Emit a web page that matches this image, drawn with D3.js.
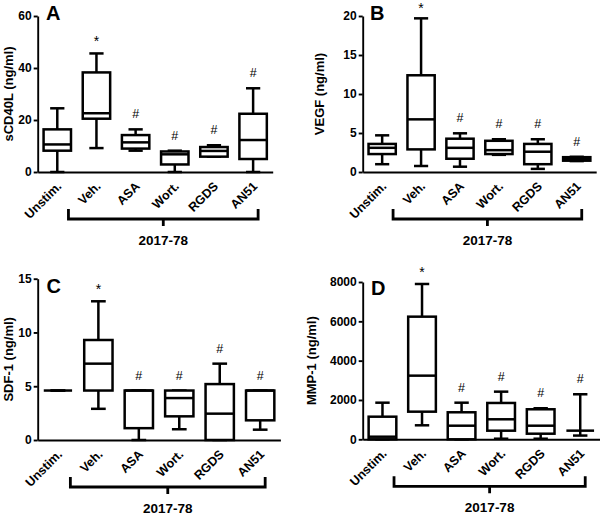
<!DOCTYPE html>
<html>
<head>
<meta charset="utf-8">
<script src="https://cdn.jsdelivr.net/npm/d3@7"></script>
<style>
  body { margin: 0; background: #fff; }
  svg text { font-family: "Liberation Sans", Arial, sans-serif; }
</style>
</head>
<body>
<svg id="chart" width="600" height="516"></svg>
<script>
const categories = ["Unstim.", "Veh.", "ASA", "Wort.", "RGDS", "AN51"];
const signif = ["", "*", "#", "#", "#", "#"];
const groupLabel = "2017-78";

// each row: [min, q1, median, q3, max]
const sCD40L = [
  [0, 8.2, 10.6, 16.4, 24.5],
  [9.2, 20.5, 22.6, 38.3, 45.6],
  [8.2, 9.0, 11.4, 14.2, 16.4],
  [0, 2.9, 6.8, 7.9, 8.2],
  [5.9, 5.9, 8.1, 9.6, 10.3],
  [0, 5.0, 12.3, 22.4, 32.2]
];
const VEGF = [
  [1.0, 2.3, 3.1, 3.6, 4.7],
  [0.77, 2.9, 6.75, 12.4, 19.7],
  [0.68, 1.7, 3.1, 4.27, 4.96],
  [2.2, 2.3, 2.8, 4.0, 4.2],
  [0.4, 1.0, 2.6, 3.6, 4.2],
  [1.4, 1.45, 1.65, 1.9, 1.95]
];
const SDF1 = [
  [4.6, 4.6, 4.6, 4.6, 4.6],
  [2.9, 4.6, 7.1, 9.3, 12.9],
  [0, 1.1, 4.6, 4.6, 4.6],
  [1.0, 2.2, 3.9, 4.6, 4.6],
  [0, 0, 2.45, 5.2, 7.1],
  [0.96, 1.83, 4.6, 4.6, 4.6]
];
const MMP1 = [
  [0, 0, 132, 1150, 1862],
  [712, 1405, 3237, 6237, 7899],
  [0, 0, 692, 1374, 1862],
  [30, 438, 1018, 1848, 2423],
  [30, 285, 692, 1527, 1578],
  [190, 440, 440, 440, 2290]
];

const ticksA = [0, 20, 40, 60];
const ticksB = [0, 5, 10, 15, 20];
const ticksC = [0, 5, 10, 15];
const ticksD = [0, 2000, 4000, 6000, 8000];

const panels = [
  {letter: "A", title: "sCD40L (ng/ml)", data: sCD40L, ticks: ticksA,
   xr: [37.7, 272.7], yr: [172, 16], titleX: 12.7, letterX: 46, letterY: 19.5},
  {letter: "B", title: "VEGF (ng/ml)", data: VEGF, ticks: ticksB,
   xr: [362.7, 596.2], yr: [172, 16], titleX: 323.7, letterX: 370, letterY: 19.5},
  {letter: "C", title: "SDF-1 (ng/ml)", data: SDF1, ticks: ticksC,
   xr: [37.7, 280.4], yr: [440, 278.7], titleX: 12.7, letterX: 46.5, letterY: 293},
  {letter: "D", title: "MMP-1 (ng/ml)", data: MMP1, ticks: ticksD,
   xr: [362.7, 600], yr: [439.3, 282], titleX: 315.7, letterX: 371, letterY: 295}
];

const svg = d3.select("#chart");

panels.forEach(p => drawPanel(p));

function drawPanel(p) {
  const g = svg.append("g").attr("class", "panel");

  const x = d3.scaleBand()
    .domain(categories)
    .range(p.xr)
    .paddingInner(0)
    .paddingOuter(0);

  const y = d3.scaleLinear()
    .domain([0, p.ticks[p.ticks.length - 1]])
    .range(p.yr);

  const boxW = x.bandwidth() * 0.7;
  const capW = boxW * 0.52;
  const zeroY = y(0);
  const sw = 2.5;

  // y axis
  const yAxis = d3.axisLeft(y)
    .tickValues(p.ticks)
    .tickSize(4)
    .tickSizeOuter(0)
    .tickPadding(2)
    .tickFormat(d3.format("d"));

  const ya = g.append("g")
    .attr("transform", "translate(" + p.xr[0] + ",0)")
    .call(yAxis);
  ya.selectAll("path, line").attr("stroke", "#000").attr("stroke-width", 1.9);
  ya.selectAll("text")
    .attr("font-size", "12px")
    .attr("font-weight", "bold")
    .attr("fill", "#000");

  // x axis, no ticks, rotated labels
  const xAxis = d3.axisBottom(x).tickSize(0).tickSizeOuter(0);
  const xa = g.append("g")
    .attr("transform", "translate(0," + zeroY + ")")
    .call(xAxis);
  xa.select(".domain").attr("stroke", "#000").attr("stroke-width", 1.9);
  xa.selectAll("text")
    .attr("y", null)
    .attr("dy", null)
    .attr("text-anchor", "end")
    .attr("transform", "translate(5,15) rotate(-45)")
    .attr("font-size", "12.5px")
    .attr("font-weight", "bold")
    .attr("fill", "#000");

  // y title
  g.append("text")
    .attr("transform", "translate(" + p.titleX + "," + ((p.yr[0] + p.yr[1]) / 2) + ") rotate(-90)")
    .attr("text-anchor", "middle")
    .attr("font-size", "13px")
    .attr("font-weight", "bold")
    .text(p.title);

  // panel letter
  g.append("text")
    .attr("x", p.letterX)
    .attr("y", p.letterY)
    .attr("font-size", "20px")
    .attr("font-weight", "bold")
    .text(p.letter);

  // boxes
  const boxes = g.selectAll("g.box")
    .data(p.data.map((d, i) => ({cat: categories[i], v: d, mark: signif[i]})))
    .enter().append("g")
    .attr("class", "box")
    .attr("transform", d => "translate(" + (x(d.cat) + x.bandwidth() / 2) + ",0)");

  function line(sel, x1, y1, x2, y2) {
    sel.append("line")
      .attr("x1", x1).attr("y1", y1).attr("x2", x2).attr("y2", y2)
      .attr("stroke", "#000")
      .attr("stroke-width", sw);
  }

  boxes.each(function(d) {
    const b = d3.select(this);
    const [mn, q1, md, q3, mx] = d.v;
    // whiskers
    line(b, 0, y(mx), 0, y(q3));
    line(b, 0, y(q1), 0, y(mn));
    line(b, -capW / 2, y(mx), capW / 2, y(mx));
    line(b, -capW / 2, y(mn), capW / 2, y(mn));
    // box
    b.append("rect")
      .attr("x", -boxW / 2)
      .attr("y", y(q3))
      .attr("width", boxW)
      .attr("height", Math.max(0, y(q1) - y(q3)))
      .attr("fill", "#fff")
      .attr("stroke", "#000")
      .attr("stroke-width", sw);
    line(b, -boxW / 2, y(md), boxW / 2, y(md));

    if (d.mark) {
      const star = d.mark === "*";
      b.append("text")
        .attr("x", 0)
        .attr("y", Math.max(12.5, y(mx) - (star ? 7 : 11)))
        .attr("text-anchor", "middle")
        .attr("font-size", star ? "14px" : "12.5px")
        .text(d.mark);
    }
  });

  // bracket under the treated groups
  const left = x(categories[1]) + x.bandwidth() / 2 - 28;
  const right = x(categories[categories.length - 1]) + x.bandwidth() / 2 + 5;
  const by = zeroY + 47;
  const mid = (left + right) / 2;
  g.append("path")
    .attr("d", "M" + left + "," + (by - 10) + "V" + by + "H" + right + "V" + (by - 10)
      + "M" + mid + "," + by + "V" + (by + 7))
    .attr("fill", "none")
    .attr("stroke", "#000")
    .attr("stroke-width", 2.8);

  g.append("text")
    .attr("x", mid)
    .attr("y", zeroY + 73)
    .attr("text-anchor", "middle")
    .attr("font-size", "13.5px")
    .attr("font-weight", "bold")
    .text(groupLabel);
}
</script>
</body>
</html>
